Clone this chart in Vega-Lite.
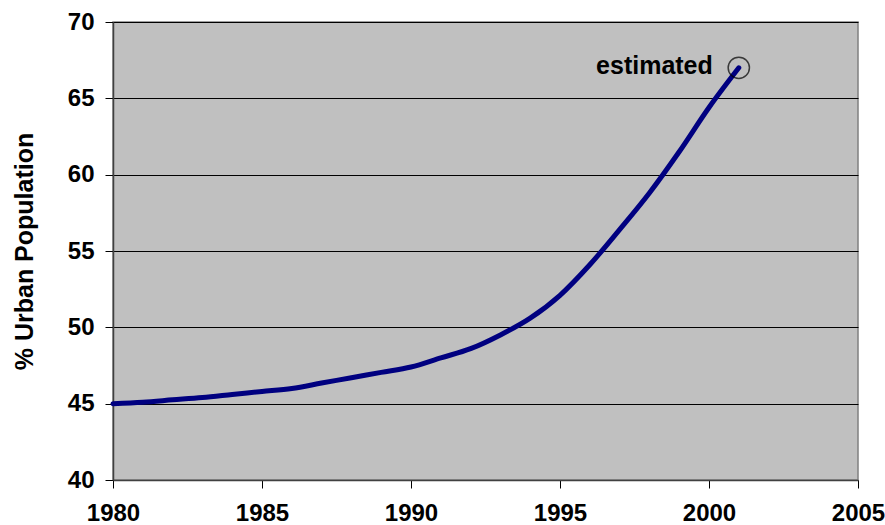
{
  "$schema": "https://vega.github.io/schema/vega-lite/v6.json",
  "width": 745,
  "height": 458,
  "autosize": {"type": "none"},
  "padding": {"left": 113, "top": 22, "right": 27, "bottom": 45},
  "background": "white",
  "config": {
    "view": {"fill": "#C0C0C0", "stroke": "#808080", "strokeWidth": 1.5},
    "font": "Liberation Sans",
    "axis": {
      "labelFont": "Liberation Sans",
      "labelFontWeight": "bold",
      "labelFontSize": 24,
      "labelColor": "black",
      "titleFont": "Liberation Sans",
      "titleFontWeight": "bold",
      "titleFontSize": 25,
      "titleColor": "black",
      "tickColor": "black",
      "tickSize": 8,
      "domainColor": "#404040",
      "domainWidth": 1.5,
      "gridColor": "black",
      "gridWidth": 1,
      "gridOpacity": 1
    }
  },
  "datasets": {
    "urban": [
      {"year": 1980, "pct": 45.0},
      {"year": 1981, "pct": 45.1},
      {"year": 1982, "pct": 45.25},
      {"year": 1983, "pct": 45.4},
      {"year": 1984, "pct": 45.6},
      {"year": 1985, "pct": 45.8},
      {"year": 1986, "pct": 46.0},
      {"year": 1987, "pct": 46.35},
      {"year": 1988, "pct": 46.7},
      {"year": 1989, "pct": 47.05},
      {"year": 1990, "pct": 47.4},
      {"year": 1991, "pct": 48.0},
      {"year": 1992, "pct": 48.6},
      {"year": 1993, "pct": 49.5},
      {"year": 1994, "pct": 50.6},
      {"year": 1995, "pct": 52.1},
      {"year": 1996, "pct": 54.1},
      {"year": 1997, "pct": 56.4},
      {"year": 1998, "pct": 58.8},
      {"year": 1999, "pct": 61.5},
      {"year": 2000, "pct": 64.4},
      {"year": 2001, "pct": 67.0}
    ],
    "note": [
      {"year": 2001, "pct": 67.0, "label": "estimated"}
    ]
  },
  "layer": [
    {
      "data": {"name": "urban"},
      "mark": {"type": "line", "color": "#000080", "strokeWidth": 5, "strokeCap": "round", "strokeJoin": "round", "interpolate": "monotone"},
      "encoding": {
        "x": {
          "field": "year", "type": "quantitative",
          "scale": {"domain": [1980, 2005], "nice": false, "zero": false},
          "axis": {"values": [1980, 1985, 1990, 1995, 2000, 2005], "format": "d", "grid": false, "title": null, "labelPadding": 13, "labelFlush": false}
        },
        "y": {
          "field": "pct", "type": "quantitative",
          "scale": {"domain": [40, 70], "nice": false, "zero": false},
          "axis": {"values": [40, 45, 50, 55, 60, 65, 70], "grid": true, "title": "% Urban Population", "labelPadding": 11, "titlePadding": 30}
        }
      }
    },
    {
      "data": {"name": "note"},
      "mark": {"type": "point", "shape": "circle", "filled": false, "size": 452, "stroke": "black", "strokeWidth": 1.5},
      "encoding": {
        "x": {"field": "year", "type": "quantitative"},
        "y": {"field": "pct", "type": "quantitative"}
      }
    },
    {
      "data": {"name": "note"},
      "mark": {"type": "text", "align": "right", "baseline": "middle", "dx": -26, "dy": -2, "fontSize": 25, "fontWeight": "bold", "font": "Liberation Sans", "color": "black"},
      "encoding": {
        "x": {"field": "year", "type": "quantitative"},
        "y": {"field": "pct", "type": "quantitative"},
        "text": {"field": "label"}
      }
    }
  ]
}
